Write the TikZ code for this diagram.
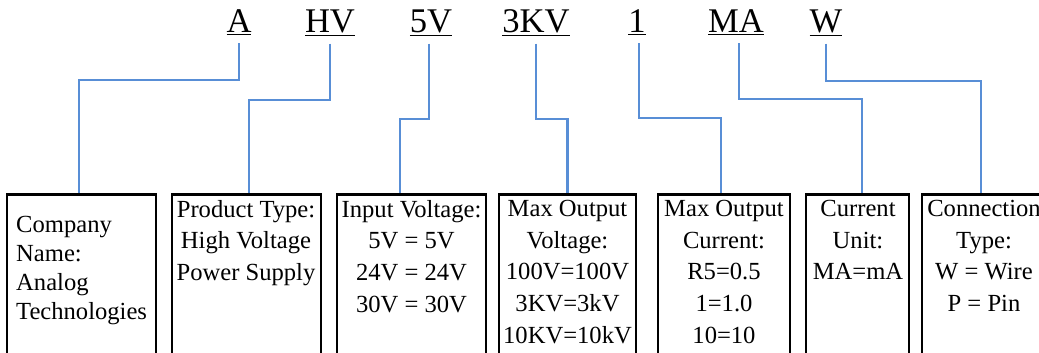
\documentclass[tikz,border=0pt]{standalone}
\usepackage{fontspec}
\setmainfont{Liberation Serif}
\definecolor{wireblue}{RGB}{88,142,214}
\tikzset{
  code/.style={inner sep=0pt, anchor=base, font=\fontsize{34.6}{40}\selectfont},
  frame/.style={draw=black, line width=2.8pt, anchor=north, minimum height=220pt, inner sep=0pt},
  info/.style={inner sep=0pt, anchor=north, align=center, font=\fontsize{24.6}{31.7}\selectfont},
  wire/.style={draw=wireblue, line width=2.4pt}
}

\begin{document}
\begin{tikzpicture}[x=1pt, y=-1pt]
  \useasboundingbox (0,0) rectangle (1039,353);
  \clip (0,0) rectangle (1039,353);
  % part code
  \node[code] (cA)   at (239,33) {\underline{A}};
  \node[code] (cHV)  at (330,33) {\underline{HV}};
  \node[code] (cIn)  at (431,33) {\underline{5V}};
  \node[code] (cOut) at (536,33) {\underline{3KV}};
  \node[code] (cI)   at (637,33) {\underline{1}};
  \node[code] (cMA)  at (736,33) {\underline{MA}};
  \node[code] (cW)   at (826,33) {\underline{W}};
  % boxes
  \node[frame, minimum width=149pt] (b1) at (81.5,193) {};
  \node[frame, minimum width=149pt] (b2) at (246.5,193) {};
  \node[frame, minimum width=149pt] (b3) at (411.5,193) {};
  \node[frame, minimum width=137pt] (b4) at (567.5,193) {};
  \node[frame, minimum width=132pt] (b5) at (724,193) {};
  \node[frame, minimum width=103pt] (b6) at (857.5,193) {};
  \node[frame, minimum width=124pt] (b7) at (984,193) {};
  % box texts
  \node[info, align=left, anchor=north west, font=\fontsize{24.6}{29}\selectfont] (t1) at (16,216)
    {Company\\Name:\\Analog\\Technologies};
  \node[info] (t2) at (246,200) {Product Type:\\High Voltage\\Power Supply};
  \node[info] (t3) at (411.5,200) {Input Voltage:\\5V = 5V\\24V = 24V\\30V = 30V};
  \node[info] (t4) at (567.5,200) {Max Output\\Voltage:\\100V=100V\\3KV=3kV\\10KV=10kV};
  \node[info] (t5) at (724,200) {Max Output\\Current:\\R5=0.5\\1=1.0\\10=10};
  \node[info] (t6) at (858,200) {Current\\Unit:\\MA=mA};
  \node[info] (t7) at (984,200) {Connection\\Type:\\W = Wire\\P = Pin};
  % connectors
  \draw[wire] ([yshift=-8pt]cA.south)   -- ++(0,37) -| ([xshift=-2.5pt]b1.north);
  \draw[wire] ([yshift=-8pt]cHV.south)  -- ++(0,56) -| ([xshift=2.5pt]b2.north);
  \draw[wire] ([xshift=-2pt,yshift=-8pt]cIn.south) -- ++(0,75) -| ([xshift=-11.5pt]b3.north);
  \draw[wire] ([yshift=-8pt]cOut.south) -- ++(0,75) -| (b4.north);
  \draw[wire] ([xshift=2pt,yshift=-8pt]cI.south) -- ++(0,75) -| ([xshift=-3pt]b5.north);
  \draw[wire] ([xshift=3pt,yshift=-8pt]cMA.south) -- ++(0,56) -| ([xshift=4.5pt]b6.north);
  \draw[wire] ([yshift=-8pt]cW.south)   -- ++(0,37) -| ([xshift=-3pt]b7.north);
\end{tikzpicture}
\end{document}
